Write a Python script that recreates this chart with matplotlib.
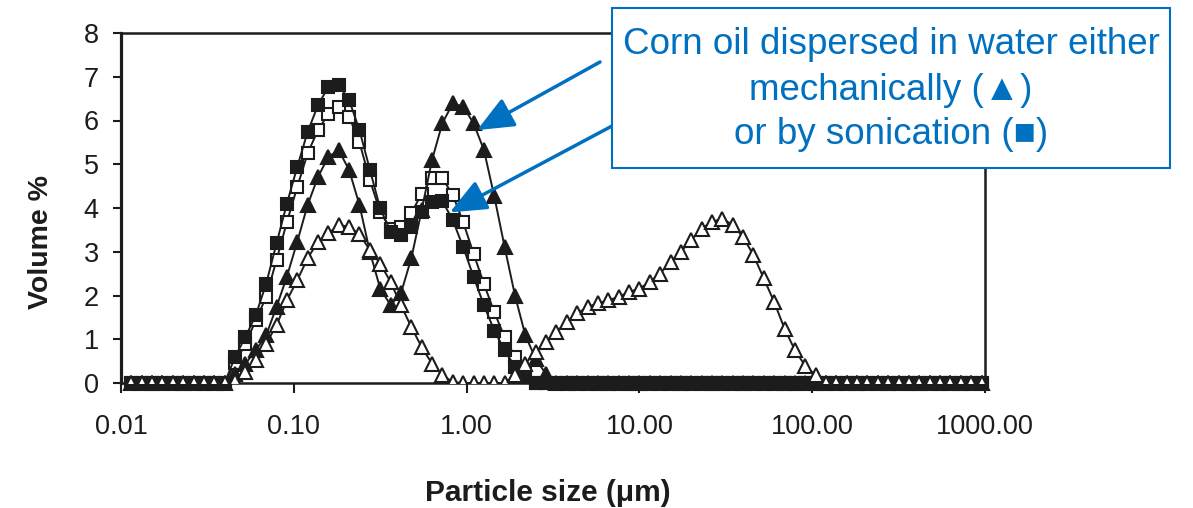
import matplotlib
matplotlib.use("Agg")
import matplotlib.pyplot as plt
import numpy as np
from matplotlib.patches import Rectangle
from matplotlib.ticker import NullLocator

plt.rcParams["font.family"] = ["Liberation Sans", "DejaVu Sans"]

# size classes of the analyser (um), geometric bins 0.0115 .. 955
size_um = 0.01 * 10 ** (0.06 * np.arange(1, 84))

# volume % per size class
sonic_filled = [0.0] * 10 + [
    0.6, 1.05, 1.55, 2.27, 3.19, 4.1, 4.94, 5.74, 6.35, 6.77, 6.81, 6.47, 5.78, 4.88, 3.99,
    3.46, 3.38, 3.57, 3.91, 4.14, 4.16, 3.72, 3.11, 2.43, 1.78, 1.2, 0.75, 0.37, 0.14,
] + [0.0] * 44
sonic_open = [0.0] * 10 + [
    0.45, 0.9, 1.43, 1.97, 2.81, 3.68, 4.48, 5.25, 5.78, 6.15, 6.3, 6.09, 5.5, 4.64, 3.91,
    3.53, 3.57, 3.88, 4.33, 4.68, 4.68, 4.3, 3.68, 2.96, 2.27, 1.62, 1.05, 0.6, 0.21,
] + [0.0] * 44
mech_filled = [0.0] * 10 + [
    0.2, 0.44, 0.75, 1.09, 1.74, 2.43, 3.23, 4.07, 4.71, 5.17, 5.32, 4.87, 4.07, 3.0, 2.16,
    1.78, 2.05, 2.85, 3.95, 5.1, 5.94, 6.39, 6.32, 5.94, 5.33, 4.27, 3.11, 2.0, 1.09, 0.55, 0.2,
] + [0.0] * 42
mech_open = [0.0] * 10 + [
    0.05, 0.25, 0.52, 0.9, 1.32, 1.89, 2.35, 2.85, 3.23, 3.42, 3.61, 3.57, 3.4, 3.04, 2.73,
    2.31, 1.78, 1.28, 0.82, 0.44, 0.18, 0.02,
] + [0.0] * 5 + [
    0.18, 0.44, 0.71, 0.94, 1.17, 1.4, 1.59, 1.74, 1.82, 1.89, 1.97, 2.08, 2.16, 2.31, 2.5,
    2.77, 3.0, 3.27, 3.53, 3.68, 3.76, 3.61, 3.34, 2.92, 2.39, 1.85, 1.24, 0.75, 0.39, 0.18,
] + [0.0] * 16

x_ticks = [0.01, 0.1, 1, 10, 100, 1000]
x_ticklabels = ["0.01", "0.10", "1.00", "10.00", "100.00", "1000.00"]
y_ticks = list(range(0, 9))

note_lines = ["Corn oil dispersed in water either", "mechanically (\u25b2)", "or by sonication (\u25a0)"]

INK = "#1c1c1c"
BLUE = "#0070C0"

fig = plt.figure(figsize=(11.93, 5.08), dpi=100)
ax = fig.add_axes([121 / 1193, 1 - 383 / 508, 864 / 1193, 350 / 508])

line_kw = dict(color=INK, lw=1.4, mec=INK, mew=1.5)
ax.plot(size_um, sonic_open, marker="s", ms=8.3, mfc="white", clip_on=False, zorder=2, **line_kw)
ax.plot(size_um, mech_filled, marker="^", ms=10, mfc=INK, clip_on=False, zorder=3, **line_kw)
ax.plot(size_um, sonic_filled, marker="s", ms=8.3, mfc=INK, clip_on=False, zorder=3.5, **line_kw)
ax.plot(size_um, mech_open, marker="^", ms=10, mfc="white", clip_on=True, zorder=4, **line_kw)

ax.set_xscale("log")
ax.set_xlim(0.01, 1000)
ax.set_ylim(0, 8)
ax.set_xticks(x_ticks)
ax.set_xticklabels(x_ticklabels)
ax.xaxis.set_minor_locator(NullLocator())
ax.set_yticks(y_ticks)
ax.tick_params(axis="x", length=7, width=1.5, pad=15, labelsize=19.5, colors=INK)
ax.tick_params(axis="y", length=6, width=1.5, pad=10, labelsize=19.5, colors=INK)
for side, w in (("left", 2.3), ("bottom", 1.8), ("top", 1.8), ("right", 1.8)):
    ax.spines[side].set_linewidth(w)
    ax.spines[side].set_color(INK)

ax.set_xlabel("Particle size (\u03bcm)", fontsize=21.5, fontweight="bold", color=INK)
ax.xaxis.label.set_va("center")
ax.xaxis.set_label_coords(0.494, -0.314)
ax.set_ylabel("Volume %", fontsize=20.5, fontweight="bold", color=INK)
ax.yaxis.label.set_va("center")
ax.yaxis.set_label_coords(-0.093, 0.403)

# note box with arrows
fig.add_artist(Rectangle((612 / 1193, 1 - 168 / 508), 558 / 1193, 160 / 508, transform=fig.transFigure,
                         fc="white", ec=BLUE, lw=1.5, zorder=10))
for ypx, txt in zip((45, 90, 135), note_lines):
    t = fig.text(891 / 1193, 1 - ypx / 508, txt, ha="center", va="center", fontsize=26.5, color=BLUE, zorder=11)

arrow_kw = dict(arrowstyle="-|>,head_length=0.7,head_width=0.3", color=BLUE, lw=2.5,
                mutation_scale=32, shrinkA=0, shrinkB=0)
ax.annotate("", xy=(1.15, 5.78), xycoords="data", xytext=(600 / 1193, 1 - 62 / 508),
            textcoords="figure fraction", arrowprops=arrow_kw, annotation_clip=False, zorder=12)
ax.annotate("", xy=(0.80, 3.9), xycoords="data", xytext=(612 / 1193, 1 - 126 / 508),
            textcoords="figure fraction", arrowprops=arrow_kw, annotation_clip=False, zorder=12)

fig.savefig("out.png", dpi=100)
